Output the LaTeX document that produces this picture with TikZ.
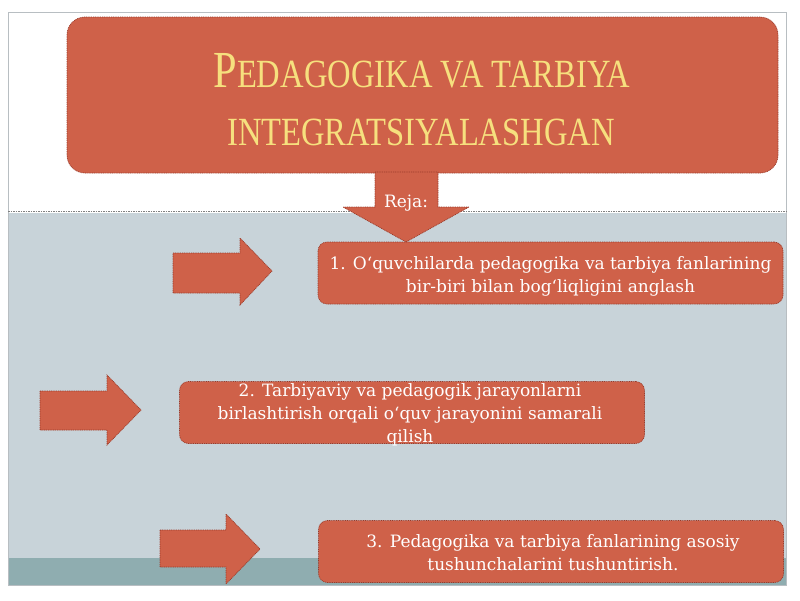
\documentclass[tikz,border=0pt]{standalone}
\usepackage{fontspec}
\setmainfont{Liberation Serif}
\newfontfamily\itemfont{DejaVu Serif}
\usepackage{graphicx}
\definecolor{boxfill}{HTML}{CF6149}
\definecolor{boxline}{HTML}{9A3B2A}
\definecolor{titleyellow}{HTML}{F6E07E}
\definecolor{bluebg}{HTML}{C8D3D9}
\definecolor{tealstrip}{HTML}{8FADB0}
\definecolor{framegrey}{HTML}{B8BEC2}
\begin{document}
\begin{tikzpicture}[x=1pt,y=-1pt,
  redshape/.style={fill=boxfill, draw=boxline, line width=0.7pt, dash pattern=on 1pt off 0.8pt},
  itembox/.style={redshape, rounded corners=9pt, rectangle, inner sep=0pt, minimum width=465pt, minimum height=62pt},
  itemtext/.style={text=white, align=center, inner sep=0pt, anchor=base, font=\itemfont\fontsize{17}{23}\selectfont},
  titletext/.style={text=titleyellow, inner sep=0pt, anchor=base}]
\useasboundingbox (0,0) rectangle (800,600);
\fill[white] (0,0) rectangle (800,600);
% slide background
\fill[bluebg] (8,213) rectangle (786,585);
\fill[tealstrip] (8,558) rectangle (786,585);
\draw[framegrey, line width=0.6pt] (8,12) rectangle (786,585);
\draw[gray, line width=0.5pt, dash pattern=on 1.5pt off 1pt] (8,211) -- (786,211);
% title box
\node[redshape, rounded corners=18pt, rectangle, minimum width=711pt, minimum height=156pt, inner sep=0pt] (title) at (422.5,95) {};
\node[titletext] (t1) at (422,87) {\scalebox{0.815}[1]{\fontsize{52}{52}\selectfont P\fontsize{40}{40}\selectfont EDAGOGIKA VA TARBIYA}};
\node[titletext] (t2) at (421,145) {\scalebox{0.815}[1]{\fontsize{40}{40}\selectfont INTEGRATSIYALASHGAN}};
% down arrow
\filldraw[redshape] (375,172) -- (438,172) -- (438,207) -- (469,207) -- (406,242) -- (343,207) -- (375,207) -- cycle;
\node[text=white, inner sep=0pt, anchor=base, font=\itemfont\fontsize{17}{17}\selectfont] (reja) at (406,207) {Reja:};
% items
\node[itembox] (b1) at (550.5,273) {};
\node[itemtext] (i1) at (550.5,292) {1. O‘quvchilarda pedagogika va tarbiya fanlarining\\bir-biri bilan bog‘liqligini anglash};
\node[itembox] (b2) at (412,412.5) {};
\node[itemtext] (i2) at (410,442) {2. Tarbiyaviy va pedagogik jarayonlarni\\birlashtirish orqali o‘quv jarayonini samarali\\qilish};
\node[itembox] (b3) at (551,551.5) {};
\node[itemtext] (i3) at (553,570.5) {3. Pedagogika va tarbiya fanlarining asosiy\\tushunchalarini tushuntirish.};
% right arrows
\filldraw[redshape] (173,253) -- (240,253) -- (240,238) -- (272,271) -- (240,305) -- (240,293) -- (173,293) -- cycle;
\filldraw[redshape] (40,391) -- (107,391) -- (107,375) -- (141,410) -- (107,445) -- (107,430) -- (40,430) -- cycle;
\filldraw[redshape] (160,530) -- (226,530) -- (226,514) -- (260,549) -- (226,584) -- (226,567) -- (160,567) -- cycle;
\end{tikzpicture}
\end{document}
